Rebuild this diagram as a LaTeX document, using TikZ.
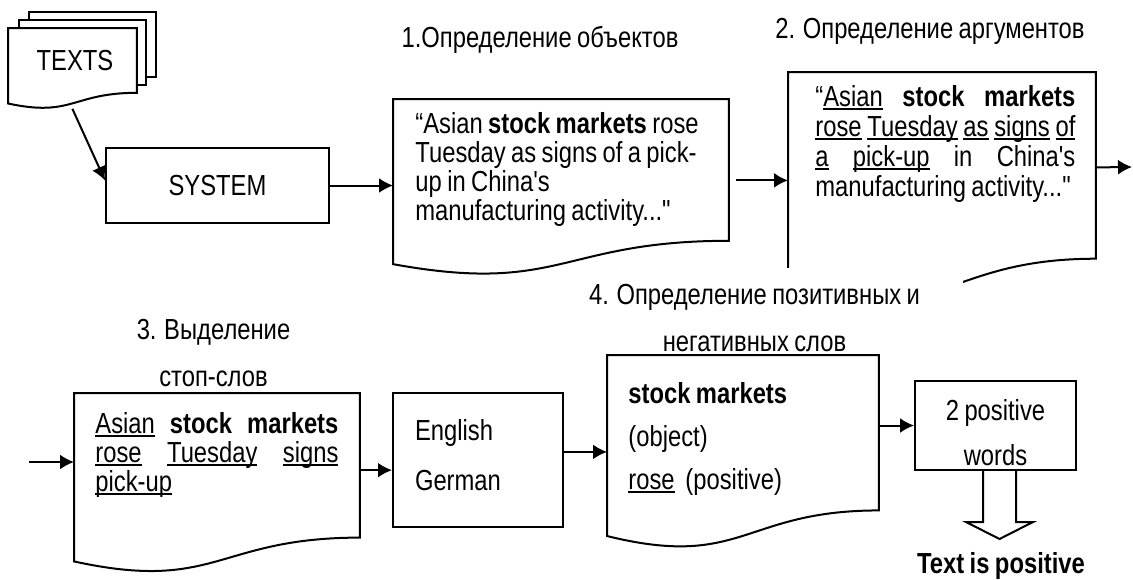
\documentclass[tikz,border=0pt]{standalone}
\usepackage{fontspec}
\setmainfont{Liberation Sans}[FakeStretch=0.82,WordSpace=0.82,Ligatures=TeXOff]
\usetikzlibrary{arrows.meta,calc}
\newcommand{\docoutline}[2][]{%
  \draw[shapeline,#1] (#2.north west) -- (#2.north east)
    -- ($(#2.north east)!0.802!(#2.south east)$)
    .. controls ($(#2.north)!0.802!(#2.south)$) and ($(#2.north)!1.1075!(#2.south)$)
    .. ($(#2.north west)!0.934!(#2.south west)$) -- cycle;}
\newcommand{\wordul}[1]{\leavevmode\setbox0\hbox{#1}\rlap{\rule[-1.8pt]{\wd0}{0.8pt}}\box0\relax}
\begin{document}
\begin{tikzpicture}[x=0.5pt,y=-0.5pt,
  every node/.style={font=\fontsize{14.5}{14.5}\selectfont},
  shapeline/.style={line width=1pt},
  docframe/.style={inner sep=0pt,anchor=north west},
  box/.style={draw,line width=1pt,inner sep=0pt},
  txt/.style={inner sep=0pt,anchor=north west,font=\fontsize{14.5}{#1}\selectfont,
    execute at begin node={\hyphenpenalty=10000\relax}},
  txt/.default=14.5pt,
  caption/.style={inner sep=0pt},
  arr/.style={line width=1pt,-{Latex[length=7pt,width=7.5pt]}},
  hollow/.style={line width=1pt}]
  \useasboundingbox (0,0) rectangle (1133,579);
  \draw[shapeline,fill=white] (29,12) rectangle (156,77);
  \draw[shapeline,fill=white] (19,20) rectangle (146,85);
  \node[docframe,minimum width=64pt,minimum height=40pt] (texts) at (8,28) {};
  \docoutline[fill=white]{texts}
  \node (textslab) at (75,61) {TEXTS};
  \node[box,minimum width=111.5pt,minimum height=37.5pt] (system) at (217.5,185.5) {SYSTEM};

  \node[docframe,minimum width=167.5pt,minimum height=88pt] (docobj) at (393,99) {};
  \docoutline{docobj}
  \node[txt,align=left] (txtobj) at (415,112) {“Asian \textbf{stock markets} rose\\Tuesday as signs of a pick-\\up in China's\\manufacturing activity..."};
  \node[caption] (capobj) at (540,40) {1.Определение объектов};

  \node[docframe,minimum width=153.5pt,minimum height=116pt] (docarg) at (788,72) {};
  \docoutline{docarg}
  \node[txt=15pt,text width=130pt,align=justify] (txtarg) at (815,85) {“\wordul{Asian} \textbf{stock markets}\linebreak
    \wordul{rose} \wordul{Tuesday} \wordul{as} \wordul{signs} \wordul{of}\linebreak
    \wordul{a} \wordul{pick-up} in China's\linebreak
    manufacturing activity..."};
  \node[caption] (caparg) at (930,31) {2. Определение аргументов};

  \node[caption,fill=white,inner xsep=21.5pt,inner ysep=8.5pt,align=center,font=\fontsize{14.5}{23.5}\selectfont] (cappol) at (754.5,318.5) {4. Определение позитивных и\\негативных слов};

  \node[docframe,minimum width=142.5pt,minimum height=89.75pt] (docstop) at (74,393) {};
  \docoutline{docstop}
  \node[txt,text width=121.5pt,align=justify] (txtstop) at (95,412) {\wordul{Asian} \textbf{stock markets}\linebreak
    \wordul{rose} \wordul{Tuesday} \wordul{signs}\linebreak
    \wordul{pick-up}};
  \node[caption,align=center,font=\fontsize{14.5}{23.5}\selectfont] (capstop) at (213.5,353.5) {3. Выделение\\стоп-слов};

  \node[box,minimum width=85pt,minimum height=67pt,text width=63pt,inner xsep=11pt,align=left,font=\fontsize{14.5}{25}\selectfont] (langs) at (478,460) {English\\German\rule[-5pt]{0pt}{5pt}};

  \node[docframe,minimum width=135.5pt,minimum height=96.5pt] (docpol) at (607,355) {};
  \docoutline{docpol}
  \node[txt=21.5pt,align=left] (txtpol) at (628,382) {\textbf{stock markets}\\(object)\\\wordul{rose}\ \ (positive)};

  \node[box,minimum width=80.5pt,minimum height=44.5pt,align=center,font=\fontsize{14.5}{22.5}\selectfont] (count) at (995.5,425.5) {\rule{0pt}{17.5pt}2 positive\\words};
  \node[font=\fontsize{14.5}{14.5}\selectfont\bfseries] (verdict) at (1001,566) {Text is positive};

  \coordinate (next) at (1132,167);
  \coordinate (prev) at (29,462);
  \draw[arr] (texts.south) -- ([yshift=2.5pt]system.west);
  \draw[arr] (system.east) -- (system.east -| docobj.west);
  \draw[arr] ([xshift=3.5pt,yshift=3.5pt]docobj.east) -- ([yshift=3.5pt]docobj.east -| docarg.west);
  \draw[arr] ([yshift=10.5pt]docarg.east) -- (next);
  \draw[arr] (prev) -- (prev -| docstop.west);
  \draw[arr] ([yshift=6.5pt]docstop.east) -- ([yshift=6.5pt]docstop.east -| langs.west);
  \draw[arr] (langs.east |- docpol.west) -- (docpol.west);
  \draw[arr] (docpol.east |- count.west) -- (count.west);
  \draw[hollow] ([xshift=-6.25pt]count.south) -- ++(0,51) -- ++(-17,0) -- ++(33.5,17) -- ++(33.5,-17) -- ++(-17,0) -- ++(0,-51);
\end{tikzpicture}
\end{document}
